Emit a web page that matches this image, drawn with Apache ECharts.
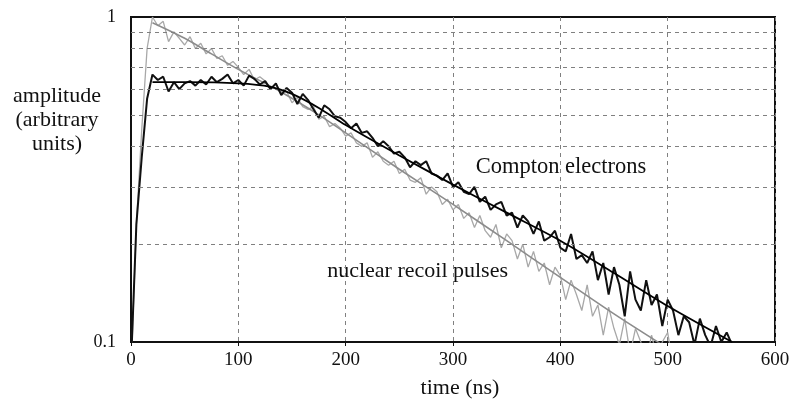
<!DOCTYPE html>
<html>
<head>
<meta charset="utf-8">
<script src="https://cdn.jsdelivr.net/npm/echarts@6/dist/echarts.min.js"></script>
<style>
html,body{margin:0;padding:0;background:#fff;}
#chart{width:791px;height:407px;}
</style>
</head>
<body>
<div id="chart"></div>
<script>
// sample times (ns) of the measured traces
const sampleTimes = [0,5,10,15,20,25,30,35,40,45,50,55,60,65,70,75,80,85,90,95,
  100,105,110,115,120,125,130,135,140,145,150,155,160,165,170,175,180,185,190,195,
  200,205,210,215,220,225,230,235,240,245,250,255,260,265,270,275,280,285,290,295,
  300,305,310,315,320,325,330,335,340,345,350,355,360,365,370,375,380,385,390,395,
  400,405,410,415,420,425,430,435,440,445,450,455,460,465,470,475,480,485,490,495,
  500,505,510,515,520,525,530,535,540,545,550,555,560,565];

// Compton electrons (black) measured trace
const comptonData = [0.085,0.23,0.37,0.56,0.665,0.64,0.655,0.59,0.63,0.60,
  0.625,0.635,0.615,0.64,0.62,0.655,0.63,0.645,0.665,0.625,
  0.64,0.615,0.66,0.645,0.62,0.635,0.60,0.625,0.575,0.605,
  0.585,0.54,0.58,0.555,0.52,0.49,0.535,0.52,0.495,0.49,
  0.475,0.455,0.47,0.44,0.445,0.425,0.40,0.415,0.40,0.38,
  0.385,0.37,0.345,0.36,0.35,0.36,0.33,0.325,0.315,0.33,
  0.30,0.31,0.29,0.285,0.30,0.27,0.28,0.255,0.265,0.27,
  0.245,0.25,0.225,0.245,0.235,0.215,0.235,0.205,0.21,0.22,
  0.195,0.19,0.215,0.18,0.185,0.175,0.19,0.155,0.175,0.14,
  0.17,0.15,0.12,0.165,0.135,0.125,0.155,0.13,0.14,0.112,
  0.135,0.125,0.105,0.12,0.115,0.098,0.118,0.105,0.097,0.112,
  0.10,0.107,0.098,0.09];

// nuclear recoil pulses (grey) measured trace
const recoilData = [0.08,0.23,0.45,0.80,1.0,0.94,0.97,0.84,0.90,0.86,
  0.82,0.87,0.80,0.83,0.77,0.80,0.745,0.76,0.71,0.73,
  0.70,0.665,0.69,0.64,0.655,0.635,0.60,0.62,0.585,0.59,
  0.545,0.565,0.53,0.52,0.53,0.485,0.495,0.46,0.47,0.455,
  0.43,0.44,0.41,0.40,0.41,0.37,0.385,0.36,0.35,0.36,
  0.33,0.34,0.315,0.31,0.32,0.285,0.30,0.29,0.265,0.275,
  0.255,0.265,0.24,0.25,0.225,0.245,0.22,0.21,0.23,0.195,
  0.215,0.205,0.18,0.20,0.17,0.19,0.165,0.175,0.15,0.17,
  0.16,0.135,0.155,0.14,0.125,0.15,0.12,0.13,0.105,0.128,
  0.11,0.098,0.118,0.092,0.11,0.10,0.087,0.105,0.09,0.10,
  0.107,0.085,0.095,0.08,0.085];

// fitted curves
const comptonFitT = [20,50,100,130,150,175,200,250,300,350,400,450,500,560];
const comptonFitV = [0.63,0.63,0.625,0.61,0.58,0.525,0.465,0.375,0.305,0.25,0.205,0.163,0.129,0.10];
const recoilFitT = [20,50,75,100,139,175,200,250,300,350,400,450,495];
const recoilFitV = [0.96,0.86,0.77,0.69,0.59,0.50,0.44,0.34,0.265,0.205,0.158,0.122,0.098];

// axis ticks / grid
const xTicks = [0,100,200,300,400,500,600];
const yGridValues = [0.2,0.3,0.4,0.5,0.6,0.7,0.8,0.9];

const pair = (xs, ys) => ys.map((v, i) => [xs[i], v]);

const serif = '"Liberation Serif","DejaVu Serif",serif';
const chart = echarts.init(document.getElementById('chart'));
chart.setOption({
  animation: false,
  backgroundColor: '#fff',
  grid: {left: 131, right: 16, top: 17, bottom: 65, outerBoundsMode: 'none', containLabel: false,
    show: true, borderColor: '#111', borderWidth: 2, backgroundColor: 'transparent'},
  xAxis: {
    type: 'value', min: xTicks[0], max: xTicks[xTicks.length - 1], interval: 100,
    axisLine: {lineStyle: {color: '#111', width: 2}},
    axisTick: {show: true, length: 4, lineStyle: {color: '#111'}},
    axisLabel: {fontFamily: serif, fontSize: 19, color: '#111', margin: 9},
    splitLine: {show: true, lineStyle: {color: '#808080', type: [4, 4], width: 1}}
  },
  yAxis: {
    type: 'log', logBase: 10, min: 0.1, max: 1,
    axisLine: {show: true, lineStyle: {color: '#111', width: 2}},
    axisTick: {show: false},
    axisLabel: {fontFamily: serif, fontSize: 18, color: '#111', margin: 15},
    splitLine: {show: false}
  },
  graphic: [
    {type: 'text', x: 57, y: 120, style: {text: 'amplitude\n(arbitrary\nunits)', font: '22px ' + serif, fill: '#111', align: 'center', verticalAlign: 'middle', lineHeight: 24}},
    {type: 'text', x: 460, y: 388, style: {text: 'time (ns)', font: '22px ' + serif, fill: '#111', align: 'center', verticalAlign: 'middle'}},
    {type: 'text', x: 561, y: 167, style: {text: 'Compton electrons', font: '22.5px ' + serif, fill: '#111', align: 'center', verticalAlign: 'middle'}},
    {type: 'text', x: 508, y: 271, style: {text: 'nuclear recoil pulses', font: '22px ' + serif, fill: '#111', align: 'right', verticalAlign: 'middle'}}
  ],
  series: [
    {
      name: 'recoil', type: 'line', data: pair(sampleTimes, recoilData), showSymbol: false,
      lineStyle: {color: '#a8a8a8', width: 1.3}, z: 2,
      markLine: {
        silent: true, symbol: 'none', label: {show: false},
        lineStyle: {color: '#808080', type: [4, 4], width: 1},
        data: yGridValues.map(v => ({yAxis: v}))
      }
    },
    {name: 'recoilFit', type: 'line', data: pair(recoilFitT, recoilFitV), showSymbol: false, smooth: 0.3,
      lineStyle: {color: '#8c8c8c', width: 1.6}, z: 3},
    {name: 'compton', type: 'line', data: pair(sampleTimes, comptonData), showSymbol: false,
      lineStyle: {color: '#111', width: 2}, z: 4},
    {name: 'comptonFit', type: 'line', data: pair(comptonFitT, comptonFitV), showSymbol: false, smooth: 0.3,
      lineStyle: {color: '#000', width: 1.8}, z: 5}
  ]
});
</script>
</body>
</html>
